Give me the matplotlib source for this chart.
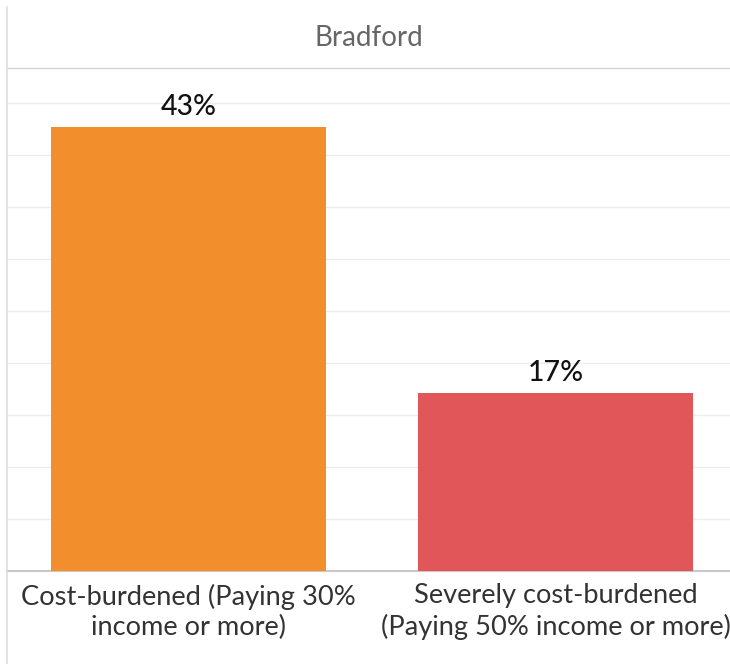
import matplotlib
matplotlib.use('Agg')
import matplotlib.pyplot as plt
from matplotlib.lines import Line2D
import numpy as np

plt.rcParams['font.family'] = ['Lato', 'DejaVu Sans']

title = 'Bradford'
categories = ['Cost-burdened (Paying 30%\nincome or more)',
              'Severely cost-burdened\n(Paying 50% income or more)']
values = [42.7, 17.1]
colors = ['#F28E2B', '#E15759']

W, H = 730, 664
fig = plt.figure(figsize=(W / 100, H / 100), dpi=100)

# plot area in pixel terms: left line x=7, header line y=68, baseline y=571
ax = fig.add_axes([7 / W, (H - 571) / H, (W - 7) / W, (571 - 68) / H])

x = np.arange(len(categories))
ax.bar(x, values, width=0.75, color=colors, zorder=3)

for xi, v in zip(x, values):
    ax.annotate(f'{round(v)}%', (xi, v), xytext=(0, 5), textcoords='offset points',
                ha='center', va='bottom', fontsize=20.5, fontweight='medium',
                color='#111111')

ax.set_xlim((7 - 188.5) / 367, (730 - 188.5) / 367)
ax.set_ylim(0, 48.4)
ax.set_yticks(np.arange(5, 50, 5))
ax.set_yticklabels([])
ax.grid(axis='y', color='#eeeeee', lw=1, zorder=0)

ax.set_xticks(x)
ax.set_xticklabels(categories, fontsize=19.6, color='#333333', linespacing=1.25)
ax.tick_params(axis='both', length=0)
ax.tick_params(axis='x', pad=9)

for s in ['right', 'left']:
    ax.spines[s].set_visible(False)
ax.spines['top'].set_color('#d4d4d4')
ax.spines['top'].set_linewidth(1)
ax.spines['bottom'].set_color('#c8c8c8')
ax.spines['bottom'].set_linewidth(1.5)

# left border line running the full height
fig.add_artist(Line2D([7 / W, 7 / W], [0, 1 - 7 / H], color='#dddddd', lw=1.2,
                      transform=fig.transFigure))

fig.text((7 + W) / 2 / W, 1 - 38 / H, title, ha='center', va='center',
         fontsize=20, color='#666666')

fig.savefig('out.png', dpi=100)
